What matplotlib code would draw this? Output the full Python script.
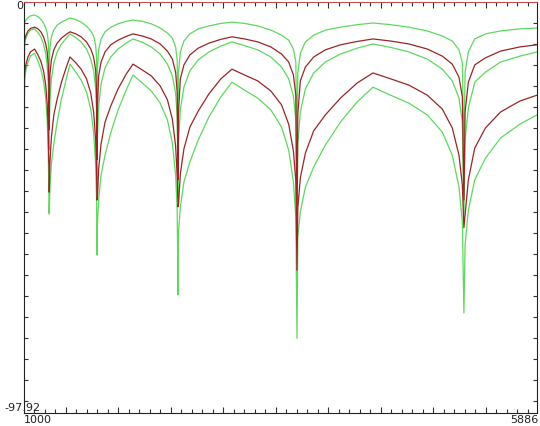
import matplotlib
matplotlib.use("Agg")
import matplotlib.pyplot as plt

# Frequency samples (Hz) shared by all curves
freq = [1000, 1005, 1019, 1038, 1062, 1100, 1133, 1160, 1186, 1207, 1221, 1231, 1236, 1238,
        1240, 1247, 1261, 1284, 1316, 1357, 1403, 1438, 1494, 1544, 1595, 1636, 1663, 1682, 1691, 1695,
        1699, 1711, 1734, 1772, 1826, 1896, 1973, 2038, 2127, 2212, 2297, 2366, 2413, 2444, 2459, 2467,
        2472, 2489, 2523, 2580, 2659, 2761, 2875, 2981, 3101, 3226, 3351, 3453, 3521, 3566, 3589, 3600,
        3608, 3632, 3680, 3759, 3870, 4014, 4173, 4324, 4491, 4666, 4841, 4984, 5079, 5143, 5175, 5190,
        5201, 5232, 5293, 5395, 5539, 5723, 5886]

# Level curves (dB)
green_top = [-23.3, -5.0, -4.3, -3.7, -3.3, -3.1, -3.5, -4.1, -5.0, -6.2, -7.4, -9.5, -12.6, -23.3,
             -15.7, -11.0, -8.3, -6.7, -5.5, -4.8, -4.2, -3.8, -4.2, -4.8, -5.7, -6.9, -8.1, -10.2, -13.3, -28.1,
             -16.2, -11.4, -8.8, -7.1, -6.0, -5.2, -4.6, -4.3, -4.6, -5.2, -6.2, -7.4, -8.6, -10.7, -13.8, -30.5,
             -16.7, -11.9, -9.3, -7.6, -6.4, -5.7, -5.1, -4.8, -5.1, -5.7, -6.7, -7.9, -9.1, -11.2, -14.3, -35.3,
             -16.9, -12.2, -9.5, -7.9, -6.7, -6.0, -5.4, -5.0, -5.4, -6.0, -6.9, -8.1, -9.3, -11.4, -14.5, -37.6,
             -16.7, -11.9, -8.8, -7.6, -6.9, -6.4, -6.2]
red_upper = [-30.5, -9.1, -7.9, -6.9, -6.3, -6.0, -6.4, -7.1, -8.3, -10.0, -11.9, -15.0, -19.8, -30.5,
             -25.0, -17.2, -13.8, -11.4, -9.8, -8.6, -7.7, -7.1, -7.6, -8.3, -9.5, -11.2, -13.1, -16.2, -21.0, -37.6,
             -25.5, -17.6, -14.3, -11.9, -10.2, -9.1, -8.2, -7.6, -8.1, -8.8, -10.0, -11.7, -13.6, -16.7, -21.4, -42.4,
             -26.2, -18.3, -15.0, -12.6, -11.0, -9.8, -8.9, -8.3, -8.8, -9.5, -10.7, -12.4, -14.3, -17.4, -22.2, -51.9,
             -26.7, -18.8, -15.5, -13.1, -11.4, -10.2, -9.4, -8.8, -9.3, -10.0, -11.2, -12.9, -14.8, -17.9, -22.6, -47.2,
             -26.2, -19.1, -15.0, -13.3, -11.7, -10.7, -10.2]
green_mid = [-32.9, -10.0, -8.6, -7.4, -6.7, -6.4, -7.3, -8.3, -10.0, -12.4, -15.2, -19.3, -25.0, -35.3,
             -31.4, -23.8, -18.3, -14.5, -11.9, -10.0, -8.6, -7.6, -8.5, -9.5, -11.2, -13.6, -16.4, -20.5, -26.2, -42.4,
             -32.6, -25.0, -19.5, -15.7, -13.1, -11.2, -9.8, -8.8, -9.6, -10.7, -12.4, -14.8, -17.6, -21.7, -27.4, -46.0,
             -33.4, -25.7, -20.3, -16.4, -13.8, -11.9, -10.5, -9.5, -10.4, -11.4, -13.1, -15.5, -18.3, -22.4, -28.1, -56.7,
             -33.8, -26.2, -20.7, -16.9, -14.3, -12.4, -11.0, -10.0, -10.8, -11.9, -13.6, -16.0, -18.8, -22.9, -28.6, -50.7,
             -32.9, -25.3, -19.1, -16.7, -14.3, -12.9, -11.9]
red_lower = [-38.4, -16.9, -14.8, -13.1, -11.9, -11.2, -12.6, -14.1, -16.4, -19.8, -24.3, -30.7, -37.9, -38.8,
             -45.3, -38.1, -32.2, -26.9, -23.1, -19.1, -15.5, -13.1, -14.5, -16.0, -18.3, -21.7, -26.2, -32.6, -39.8, -47.2,
             -46.9, -39.8, -33.8, -28.6, -24.8, -20.7, -17.2, -14.8, -16.2, -17.6, -20.0, -23.3, -27.9, -34.3, -41.5, -48.8,
             -48.1, -41.0, -35.0, -29.8, -26.0, -21.9, -18.3, -16.0, -17.4, -18.8, -21.2, -24.5, -29.1, -35.5, -42.6, -63.9,
             -49.1, -41.9, -36.0, -30.7, -26.9, -22.9, -19.3, -16.9, -18.3, -19.8, -22.2, -25.5, -30.0, -36.5, -43.6, -53.8,
             -50.7, -42.4, -34.8, -30.0, -26.2, -23.6, -22.2]
green_bottom = [-97.92, -18.6, -16.2, -14.3, -12.9, -12.2, -14.1, -16.0, -18.8, -22.9, -28.4, -36.0, -44.3, -50.0,
                -50.5, -44.6, -38.6, -33.8, -28.6, -23.1, -18.3, -14.8, -16.7, -18.6, -21.4, -25.5, -31.0, -38.6, -46.9, -60.3,
                -53.1, -47.2, -41.2, -36.5, -31.2, -25.7, -21.0, -17.4, -19.3, -21.2, -24.1, -28.1, -33.6, -41.2, -49.6, -69.8,
                -54.8, -48.8, -42.9, -38.1, -32.9, -27.4, -22.6, -19.1, -21.0, -22.9, -25.7, -29.8, -35.3, -42.9, -51.2, -80.1,
                -56.0, -50.0, -44.1, -39.3, -34.1, -28.6, -23.8, -20.3, -22.2, -24.1, -26.9, -31.0, -36.5, -44.1, -52.4, -74.1,
                -57.9, -49.6, -42.4, -37.2, -32.4, -29.1, -26.9]

x_min, x_max = 1000, 5886
y_min, y_max = -97.92, 0
x_minor_ticks = list(range(1100, 5886, 100))
x_major_ticks = list(range(1400, 5886, 500))
y_ticks = list(range(-95, 1, 5))

W, H = 540, 426
fig = plt.figure(figsize=(W / 100, H / 100), dpi=100)
fig.patch.set_facecolor("white")
ax = fig.add_axes([24 / W, 13 / H, 513 / W, 411 / H])
ax.set_facecolor("white")

GREEN = "#5fd85f"
RED = "#992626"
for ys in (green_top, green_mid, green_bottom):
    ax.plot(freq, ys, color=GREEN, lw=0.9)
for ys in (red_upper, red_lower):
    ax.plot(freq, ys, color=RED, lw=0.9)

ax.set_xlim(x_min, x_max)
ax.set_ylim(y_min, y_max)

ax.set_xticks(x_major_ticks)
ax.set_xticks(x_minor_ticks, minor=True)
ax.set_yticks(y_ticks)
ax.tick_params(axis="x", which="major", direction="in", length=4.5, width=0.8,
               top=True, bottom=True, labelbottom=False, color="#333333")
ax.tick_params(axis="x", which="minor", direction="in", length=2.8, width=0.8,
               top=True, bottom=True, color="#333333")
ax.tick_params(axis="y", which="major", direction="in", length=2.8, width=0.8,
               left=True, right=True, labelleft=False, color="#333333")

for side in ("left", "bottom", "right"):
    ax.spines[side].set_color("#222222")
    ax.spines[side].set_linewidth(0.8)
ax.spines["top"].set_color("#c05050")
ax.spines["top"].set_linewidth(0.8)

fig.text(20 / W, 1 - 6 / H, "0", fontsize=8, ha="center", va="center", color="#222222")
fig.text(4 / W, 18 / H, "-97.92", fontsize=8, ha="left", va="center", color="#222222")
fig.text(24 / W, 6 / H, "1000", fontsize=8, ha="left", va="center", color="#222222")
fig.text(538 / W, 6 / H, "5886", fontsize=8, ha="right", va="center", color="#222222")

fig.savefig("out.png", dpi=100, facecolor="white")
